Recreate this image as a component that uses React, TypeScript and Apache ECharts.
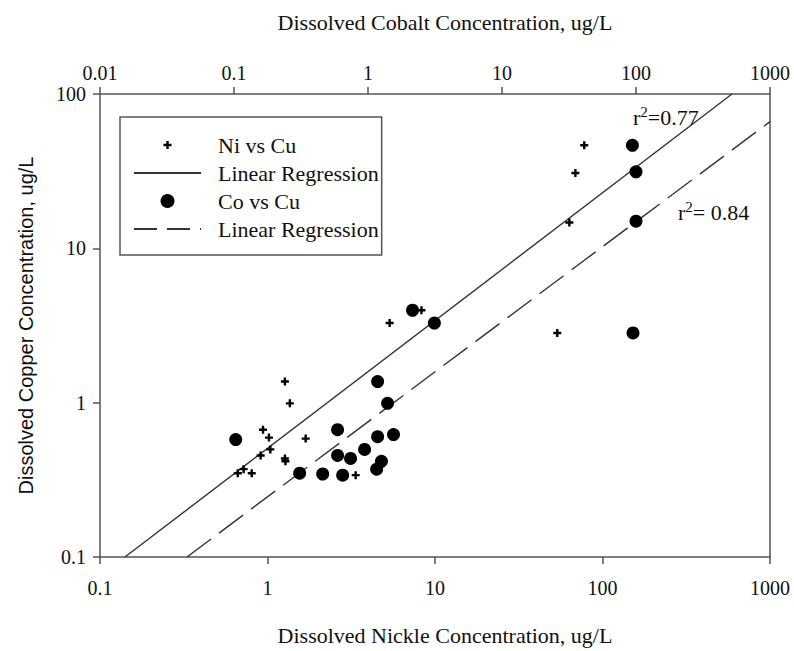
import React, { useEffect, useRef } from "react";
import * as echarts from "echarts";

// Ni vs Cu (bottom axis: dissolved nickel, ug/L; y: dissolved copper, ug/L)
const niX = [77.8, 68.9, 63.4, 53.7, 8.3, 5.36, 1.27, 1.36, 0.94, 1.02, 1.69, 1.04, 0.91, 1.27, 1.28, 0.72, 0.665, 0.805, 3.36];
const niY = [46.5, 30.8, 14.7, 2.83, 3.97, 3.28, 1.37, 0.99, 0.668, 0.594, 0.585, 0.498, 0.455, 0.435, 0.417, 0.371, 0.349, 0.349, 0.339];

// Co vs Cu (top axis: dissolved cobalt, ug/L)
const coX = [94, 100, 100, 95, 2.15, 3.13, 1.18, 1.4, 0.103, 0.593, 1.18, 1.55, 0.943, 0.593, 0.741, 1.26, 1.16, 0.309, 0.459, 0.647];
const coY = [46.5, 31.3, 15.0, 2.83, 3.97, 3.28, 1.37, 0.99, 0.577, 0.668, 0.602, 0.621, 0.498, 0.455, 0.435, 0.417, 0.371, 0.349, 0.345, 0.339];

// Regression line end points
const niFitX = [0.141, 593];
const niFitY = [0.1, 100];
const coFitX = [0.0446, 1000];
const coFitY = [0.1, 66.2];

const niR2 = "0.77";
const coR2 = " 0.84";

const SERIF = "Liberation Serif";
const SANS = "Liberation Sans";
const AXIS_COLOR = "#555";
const TEXT_COLOR = "#111";

const PLUS =
  "path://M0 0M14 14M5.8 3L8.2 3L8.2 5.8L11 5.8L11 8.2L8.2 8.2L8.2 11L5.8 11L5.8 8.2L3 8.2L3 5.8L5.8 5.8Z";

const fmt = (v: number) => String(Number(v.toPrecision(4)));

const zip = (xs: number[], ys: number[]) => xs.map((x, i) => [x, ys[i]]);

export default function App() {
  const ref = useRef<HTMLDivElement>(null);
  useEffect(() => {
    if (!ref.current) return;
    const chart = echarts.init(ref.current, undefined, { renderer: "svg" });
    const axisLine = { show: true, lineStyle: { color: AXIS_COLOR, width: 1.5 } };
    const axisTick = { show: true, length: 7, lineStyle: { color: AXIS_COLOR, width: 1.5 } };
    const label = (margin: number) => ({
      fontFamily: SERIF,
      fontSize: 20,
      color: TEXT_COLOR,
      margin,
      formatter: fmt,
    });
    chart.setOption({
      animation: false,
      backgroundColor: "#fff",
      textStyle: { fontFamily: SERIF },
      grid: { left: 100, right: 24, top: 94, bottom: 87 },
      legend: {
        orient: "vertical",
        left: 120,
        top: 117,
        padding: [17, 3, 15, 13],
        itemWidth: 67,
        itemHeight: 14,
        itemGap: 6,
        borderColor: AXIS_COLOR,
        borderWidth: 1.5,
        backgroundColor: "#fff",
        selectedMode: false,
        formatter: (n: string) => n.trim(),
        textStyle: {
          fontFamily: SERIF,
          fontSize: 22,
          color: TEXT_COLOR,
          lineHeight: 22,
          padding: [0, 0, 0, 12],
        },
        data: [
          { name: "Ni vs Cu", itemStyle: { opacity: 1 } },
          { name: "Linear Regression", itemStyle: { opacity: 0 } },
          { name: "Co vs Cu", itemStyle: { opacity: 1 } },
          { name: "Linear Regression ", itemStyle: { opacity: 0 }, lineStyle: { type: [23, 10] } },
        ],
      },
      xAxis: [
        {
          type: "log",
          logBase: 10,
          min: 0.1,
          max: 1000,
          position: "bottom",
          name: "Dissolved Nickle Concentration, ug/L",
          nameLocation: "middle",
          nameGap: 67,
          nameTextStyle: { fontFamily: SERIF, fontSize: 22, color: TEXT_COLOR, padding: [0, 0, 0, 20] },
          axisLine,
          axisTick,
          minorTick: { show: false },
          splitLine: { show: false },
          axisLabel: label(21),
        },
        {
          type: "log",
          logBase: 10,
          min: 0.01,
          max: 1000,
          position: "top",
          name: "Dissolved Cobalt Concentration, ug/L",
          nameLocation: "middle",
          nameGap: 61,
          nameTextStyle: { fontFamily: SERIF, fontSize: 22, color: TEXT_COLOR, padding: [0, 0, 0, 20] },
          axisLine,
          axisTick,
          minorTick: { show: false },
          splitLine: { show: false },
          axisLabel: label(11),
        },
      ],
      yAxis: [
        {
          type: "log",
          logBase: 10,
          min: 0.1,
          max: 100,
          position: "left",
          name: "Dissolved Copper Concentration, ug/L",
          nameLocation: "middle",
          nameRotate: 90,
          nameGap: 64,
          nameTextStyle: { fontFamily: SANS, fontSize: 20, color: TEXT_COLOR },
          axisLine,
          axisTick,
          minorTick: { show: false },
          splitLine: { show: false },
          axisLabel: label(14),
        },
        {
          type: "log",
          logBase: 10,
          min: 0.1,
          max: 100,
          position: "right",
          axisLine,
          axisTick: { show: false },
          axisLabel: { show: false },
          splitLine: { show: false },
        },
      ],
      series: [
        {
          name: "Ni vs Cu",
          type: "scatter",
          xAxisIndex: 0,
          yAxisIndex: 0,
          symbol: PLUS,
          symbolSize: 14,
          itemStyle: { color: "#000", opacity: 1 },
          data: zip(niX, niY),
          z: 5,
        },
        {
          name: "Linear Regression",
          type: "line",
          xAxisIndex: 0,
          yAxisIndex: 0,
          symbol: "none",
          lineStyle: { color: "#333", width: 1.4, type: "solid" },
          itemStyle: { color: "#333", opacity: 0 },
          data: zip(niFitX, niFitY),
          z: 3,
        },
        {
          name: "Co vs Cu",
          type: "scatter",
          xAxisIndex: 1,
          yAxisIndex: 0,
          symbol: "circle",
          symbolSize: 13,
          itemStyle: { color: "#000", opacity: 1 },
          data: zip(coX, coY),
          z: 5,
        },
        {
          name: "Linear Regression ",
          type: "line",
          xAxisIndex: 1,
          yAxisIndex: 0,
          symbol: "none",
          lineStyle: { color: "#333", width: 1.4, type: [30, 10] },
          itemStyle: { color: "#333", opacity: 0 },
          data: zip(coFitX, coFitY),
          z: 3,
        },
      ],
      graphic: [
        {
          type: "text",
          x: 633,
          y: 104.6,
          z: 10,
          style: {
            text: "{a|r}{b|2}{a|=" + niR2 + "}",
            verticalAlign: "top",
            rich: {
              a: { fontFamily: SERIF, fontSize: 22, lineHeight: 26, fill: TEXT_COLOR },
              b: { fontFamily: SERIF, fontSize: 15, verticalAlign: "top", fill: TEXT_COLOR },
            },
          },
        },
        {
          type: "text",
          x: 678,
          y: 199.6,
          z: 10,
          style: {
            text: "{a|r}{b|2}{a|=" + coR2 + "}",
            verticalAlign: "top",
            rich: {
              a: { fontFamily: SERIF, fontSize: 22, lineHeight: 26, fill: TEXT_COLOR },
              b: { fontFamily: SERIF, fontSize: 15, verticalAlign: "top", fill: TEXT_COLOR },
            },
          },
        },
      ],
    });
    return () => chart.dispose();
  }, []);
  return (
    <div
      ref={ref}
      style={{ position: "absolute", left: 0, top: 0, width: 794, height: 651, background: "#fff" }}
    />
  );
}
